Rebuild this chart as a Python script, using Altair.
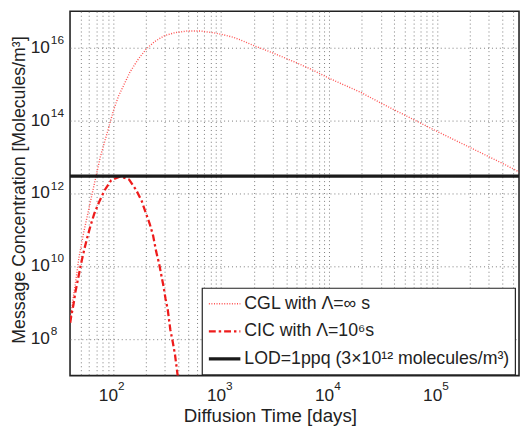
import altair as alt
import pandas as pd

# exponents (log10)
cgl_logx = [1.604, 1.625, 1.655, 1.685, 1.73, 1.767, 1.806, 1.852, 1.882, 1.93, 1.976, 2.006,
            2.052, 2.097, 2.158, 2.234, 2.309, 2.385, 2.476, 2.567, 2.688, 2.809, 2.93, 3.0,
            3.11, 3.173, 3.309, 3.476, 3.688, 3.839, 4.0, 4.296, 4.478, 4.779, 5.0, 5.297,
            5.6, 5.764]
cgl_logy = [8.5, 9.0, 9.6, 10.25, 10.95, 11.45, 11.98, 12.6, 13.0, 13.5, 13.98, 14.3,
            14.68, 14.96, 15.34, 15.69, 15.97, 16.17, 16.33, 16.41, 16.46, 16.46, 16.41, 16.37,
            16.29, 16.22, 16.05, 15.86, 15.6, 15.4, 15.16, 14.77, 14.48, 14.03, 13.7, 13.27,
            12.83, 12.58]

cic_logx = [1.604, 1.613, 1.634, 1.652, 1.673, 1.694, 1.712, 1.736, 1.764, 1.794, 1.827, 1.87,
            1.922, 1.982, 2.067, 2.149, 2.213, 2.264, 2.303, 2.34, 2.37, 2.4, 2.425, 2.445,
            2.467, 2.485, 2.506, 2.53, 2.552, 2.573, 2.588, 2.6]
cic_logy = [8.45, 8.63, 8.95, 9.3, 9.61, 9.92, 10.18, 10.49, 10.82, 11.14, 11.45, 11.76,
            12.09, 12.36, 12.47, 12.38, 12.1, 11.8, 11.47, 11.16, 10.85, 10.39, 10.09, 9.78,
            9.45, 9.12, 8.81, 8.26, 7.93, 7.58, 7.23, 6.95]

lod_x = [40, 5.7e5]
lod_y = [3e12, 3e12]

x_domain = [40, 5.7e5]
y_domain = [1e7, 1e17]

x_grid = [50, 60, 70, 80, 90,
          100, 200, 300, 400, 500, 600, 700, 800, 900,
          1e3, 2e3, 3e3, 4e3, 5e3, 6e3, 7e3, 8e3, 9e3,
          1e4, 2e4, 3e4, 4e4, 5e4, 6e4, 7e4, 8e4, 9e4,
          1e5, 2e5, 3e5, 4e5, 5e5]
x_label_exps = [2, 3, 4, 5]
y_label_exps = [8, 10, 12, 14, 16]

series_names = ["CGL with Λ=∞ s", "CIC with Λ=10⁶s", "LOD=1ppq (3×10¹² molecules/m³)"]
series_colors = ["#ff5050", "#ee1c1c", "#1a1a1a"]
series_dash = [[1, 1.6], [7, 3, 2.5, 3], [1, 0]]
series_width = [1.4, 3.2, 2.5]

rows = []
for lx, ly in zip(cgl_logx, cgl_logy):
    rows.append({"t": 10 ** lx, "c": 10 ** ly, "s": series_names[0], "o": 0})
for lx, ly in zip(cic_logx, cic_logy):
    rows.append({"t": 10 ** lx, "c": 10 ** ly, "s": series_names[1], "o": 1})
for x, y in zip(lod_x, lod_y):
    rows.append({"t": x, "c": y, "s": series_names[2], "o": 2})
df = pd.DataFrame(rows)

xlab = pd.DataFrame({"t": [10.0 ** e for e in x_label_exps], "base": "10",
                     "exp": [str(e) for e in x_label_exps]})
ylab = pd.DataFrame({"c": [10.0 ** e for e in y_label_exps], "base": "10",
                     "exp": [str(e) for e in y_label_exps]})

font = "Liberation Sans"
tcol = "#222222"
W, H = 456, 370

xscale = alt.Scale(type="log", domain=x_domain, nice=False)
yscale = alt.Scale(type="log", domain=y_domain, nice=False)

lines = alt.Chart(df).mark_line(clip=True).encode(
    x=alt.X("t:Q", scale=xscale,
            axis=alt.Axis(values=x_grid, labels=False, title="Diffusion Time [days]",
                          grid=True, gridDash=[1, 3], gridColor="#7a7a7a", gridWidth=1,
                          ticks=False, domain=False,
                          titleFont=font, titleFontSize=19, titleFontWeight="normal",
                          titleColor=tcol, titleX=203, titleY=47, titleAlign="center",
                          titleBaseline="alphabetic")),
    y=alt.Y("c:Q", scale=yscale,
            axis=alt.Axis(values=[10.0 ** e for e in y_label_exps], labels=False,
                          title="Message Concentration [Molecules/m³]",
                          grid=True, gridDash=[1, 3], gridColor="#7a7a7a", gridWidth=1,
                          ticks=False, domain=False,
                          titleFont=font, titleFontSize=18, titleFontWeight="normal",
                          titleColor=tcol, titleX=-51, titleY=181, titleAlign="center",
                          titleBaseline="middle", titleAngle=270)),
    color=alt.Color("s:N", scale=alt.Scale(domain=series_names, range=series_colors), title=None,
                    legend=alt.Legend(orient="none", legendX=134, legendY=281)),
    strokeDash=alt.StrokeDash("s:N", scale=alt.Scale(domain=series_names, range=series_dash), title=None),
    strokeWidth=alt.StrokeWidth("s:N", scale=alt.Scale(domain=series_names, range=series_width), title=None),
    detail="s:N",
    order="o:Q",
)

xbase = alt.Chart(xlab).mark_text(align="right", baseline="alphabetic", dx=5, font=font,
                                   fontSize=17.5, color=tcol).encode(
    x=alt.X("t:Q", scale=xscale), y=alt.value(H + 26), text="base:N")
xexp = alt.Chart(xlab).mark_text(align="left", baseline="alphabetic", dx=5, font=font,
                                  fontSize=12, color=tcol).encode(
    x=alt.X("t:Q", scale=xscale), y=alt.value(H + 15), text="exp:N")
ybase = alt.Chart(ylab).mark_text(align="right", baseline="alphabetic", dy=5, font=font,
                                   fontSize=17.5, color=tcol).encode(
    y=alt.Y("c:Q", scale=yscale), x=alt.value(-20.5), text="base:N")
yexp = alt.Chart(ylab).mark_text(align="left", baseline="alphabetic", dy=-4, font=font,
                                  fontSize=12, color=tcol).encode(
    y=alt.Y("c:Q", scale=yscale), x=alt.value(-19.5), text="exp:N")

chart = alt.layer(lines, xbase, xexp, ybase, yexp).properties(
    width=W, height=H, autosize=alt.AutoSizeParams(type="none"),
    padding={"left": 63, "top": 0, "right": 1, "bottom": 60},
).configure_view(
    stroke="#222", strokeWidth=1.6
).configure_legend(
    strokeColor="#222", fillColor="white", padding=5, symbolType="stroke", symbolSize=1024,
    clipHeight=22, labelFontSize=18, labelFont=font, labelColor=tcol, rowPadding=6,
    labelLimit=400, symbolOffset=0, labelOffset=2, cornerRadius=0, strokeWidth=1.2
)

chart.save("out.html", embed_options={"renderer": "svg", "actions": False})
